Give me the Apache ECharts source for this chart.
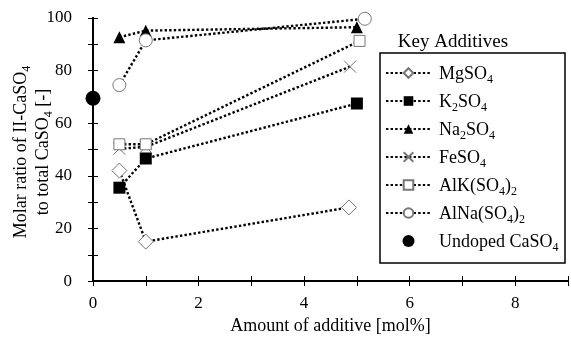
<!DOCTYPE html>
<html><head><meta charset="utf-8">
<script src="https://cdn.jsdelivr.net/npm/echarts@6/dist/echarts.min.js"></script>
<style>html,body{margin:0;padding:0;background:#fff}#c{width:571px;height:340px}</style>
</head><body><div id="c"></div>
<script>
const xTicks = [0, 2, 4, 6, 8];
const yTicks = [0, 20, 40, 60, 80, 100];
const seriesNames = ['MgSO4', 'K2SO4', 'Na2SO4', 'FeSO4', 'AlK(SO4)2', 'AlNa(SO4)2', 'Undoped CaSO4'];
const xMg = [0.5, 1, 4.85];   const yMg = [42, 15, 28];
const xK = [0.5, 1, 5.0];     const yK = [35.5, 46.6, 67.5];
const xNa = [0.5, 1, 5.0];    const yNa = [92.7, 95.2, 96.5];
const xFe = [0.5, 1, 4.87];   const yFe = [50.3, 51, 81.5];
const xAlK = [0.5, 1, 5.05];  const yAlK = [52, 52, 91.3];
const xAlNa = [0.5, 1, 5.15]; const yAlNa = [74.5, 91.5, 99.7];
const xUndoped = [0];         const yUndoped = [69.5];

const FONT = 'Liberation Serif';
const pair = (xs, ys) => xs.map((x, i) => [x, ys[i]]);
const crossPath = 'path://M0,0L10,10M10,0L0,10';
const dotted = { color: '#000', width: 2.4, type: [2.4, 2.2] };

function lineSeries(name, xs, ys, symbol, size, fill, stroke, bw) {
  return {
    name, type: 'line', data: pair(xs, ys), symbol, symbolSize: size,
    showAllSymbol: true, clip: false, z: 3,
    lineStyle: dotted,
    itemStyle: { color: fill, borderColor: stroke, borderWidth: bw },
    emphasis: { disabled: true }
  };
}

const legendRich = {
  n: { fontFamily: FONT, fontSize: 18, color: '#000', lineHeight: 20, verticalAlign: 'bottom' },
  s: { fontFamily: FONT, fontSize: 12, color: '#000', lineHeight: 20, verticalAlign: 'bottom', padding: [0, 0, -3, 0] }
};
function fmt(name) {
  let out = '';
  name.split(/(\d+)/).forEach(p => {
    if (p === '') return;
    out += /^\d+$/.test(p) ? '{s|' + p + '}' : '{n|' + p + '}';
  });
  return out;
}

const chart = echarts.init(document.getElementById('c'), null, { renderer: 'canvas' });
const axisLine = { show: true, lineStyle: { color: '#000', width: 2 } };
const tick = { show: true, inside: true, length: 5, lineStyle: { color: '#000', width: 1 } };
const richTitle = {
  n: { font: '18px "Liberation Serif"', fill: '#000', lineHeight: 22, verticalAlign: 'bottom' },
  s: { font: '12px "Liberation Serif"', fill: '#000', lineHeight: 22, verticalAlign: 'bottom', padding: [0, 0, -3, 0] }
};
chart.setOption({
  animation: false,
  backgroundColor: '#fff',
  grid: { left: 93, right: -2, top: 18, bottom: 53, containLabel: false },
  xAxis: [{
    type: 'value', min: 0, max: 9, interval: 1, position: 'bottom',
    axisLine, axisTick: tick, splitLine: { show: false },
    axisLabel: { margin: 14, fontFamily: FONT, fontSize: 17, color: '#000',
      formatter: v => xTicks.includes(v) ? String(v) : '' },
    name: 'Amount of additive [mol%]', nameLocation: 'middle', nameGap: 31,
    nameTextStyle: { fontFamily: FONT, fontSize: 18, color: '#000' }
  }, {
    type: 'value', min: 0, max: 9, interval: 1, position: 'top',
    axisLine, axisTick: tick, axisLabel: { show: false }, splitLine: { show: false }
  }],
  yAxis: [{
    type: 'value', min: 0, max: 100, interval: 10, position: 'left',
    axisLine, axisTick: tick, splitLine: { show: false },
    axisLabel: { margin: 21, fontFamily: FONT, fontSize: 17, color: '#000',
      formatter: v => yTicks.includes(v) ? String(v) : '' }
  }, {
    type: 'value', min: 0, max: 100, interval: 10, position: 'right',
    axisLine, axisTick: tick, axisLabel: { show: false }, splitLine: { show: false }
  }],
  legend: {
    orient: 'vertical', left: 385, top: 63, itemWidth: 45, itemHeight: 12, itemGap: 5,
    padding: 0, selectedMode: false,
    data: seriesNames,
    formatter: fmt,
    textStyle: { fontFamily: FONT, fontSize: 18, color: '#000', lineHeight: 20, rich: legendRich, padding: [0, 0, 0, 3] }
  },
  graphic: [
    { type: 'rect', z: 1, shape: { x: 380, y: 53, width: 185, height: 210 },
      style: { fill: '#fff', stroke: '#000', lineWidth: 1.5 } },
    { type: 'text', z: 1, x: 453, y: 42, style: { text: 'Key Additives', align: 'center', verticalAlign: 'middle',
      font: '19px "Liberation Serif"', fill: '#000' } },
    { type: 'text', z: 1, x: 19, y: 152, rotation: Math.PI / 2,
      style: { text: '{n|Molar ratio of II-CaSO}{s|4}', align: 'center', verticalAlign: 'middle', rich: richTitle } },
    { type: 'text', z: 1, x: 41, y: 152, rotation: Math.PI / 2,
      style: { text: '{n|to total CaSO}{s|4}{n| [-]}', align: 'center', verticalAlign: 'middle', rich: richTitle } }
  ],
  series: [
    lineSeries(seriesNames[0], xMg, yMg, 'diamond', 15, '#fff', '#777', 1),
    lineSeries(seriesNames[1], xK, yK, 'rect', 12, '#000', '#000', 0),
    lineSeries(seriesNames[2], xNa, yNa, 'triangle', 12, '#000', '#000', 0),
    lineSeries(seriesNames[3], xFe, yFe, crossPath, 12, 'none', '#777', 1),
    lineSeries(seriesNames[4], xAlK, yAlK, 'rect', 11, '#fff', '#777', 1),
    lineSeries(seriesNames[5], xAlNa, yAlNa, 'circle', 13, '#fff', '#777', 1),
    { name: seriesNames[6], type: 'scatter', data: pair(xUndoped, yUndoped), symbol: 'circle', symbolSize: 15,
      clip: false, z: 4, itemStyle: { color: '#000', opacity: 1 }, emphasis: { disabled: true } }
  ]
});
</script>
</body></html>
